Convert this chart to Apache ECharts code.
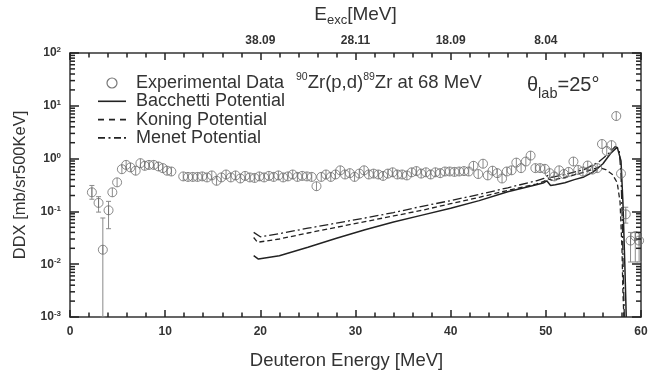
<!DOCTYPE html>
<html>
<head>
<meta charset="utf-8">
<script src="https://cdn.jsdelivr.net/npm/echarts@6/dist/echarts.min.js"></script>
<style>html,body{margin:0;padding:0;background:#fff}#c{width:658px;height:376px}</style>
</head>
<body>
<div id="c"></div>
<script>
// ---------- data ----------
const expE = [2.3, 3.0, 3.45, 4.05, 4.45, 4.95, 5.45, 5.9, 6.35, 6.9, 7.4, 7.85, 8.3, 8.8, 9.3, 9.75, 10.2, 10.65,
  11.9, 12.4, 12.9, 13.4, 13.9, 14.4, 14.9, 15.4, 15.9, 16.4, 16.9, 17.4, 17.9, 18.4, 18.9, 19.4, 19.9, 20.4, 20.9,
  21.4, 21.9, 22.4, 22.9, 23.4, 23.9, 24.4, 24.9, 25.4, 25.9, 26.4, 26.9, 27.4, 27.9, 28.4, 28.9, 29.4, 29.9, 30.4,
  30.9, 31.4, 31.9, 32.4, 32.9, 33.4, 33.9, 34.4, 34.9, 35.4, 35.9, 36.4, 36.9, 37.4, 37.9, 38.4, 38.9, 39.4, 39.9,
  40.4, 40.9, 41.4, 41.9, 42.4, 42.9, 43.4, 43.9, 44.4, 44.9, 45.4, 45.9, 46.4, 46.9, 47.4, 47.9, 48.4, 48.9, 49.4,
  49.9, 50.4, 50.9, 51.4, 51.9, 52.4, 52.9, 53.4, 53.9, 54.4, 54.9, 55.4, 55.9, 56.4, 56.9, 57.4, 57.9, 58.4, 58.9,
  59.4, 59.8];
const expV = [0.23, 0.145, 0.0188, 0.105, 0.23, 0.355, 0.63, 0.76, 0.68, 0.59, 0.82, 0.73, 0.76, 0.76, 0.71, 0.66, 0.59, 0.57,
  0.46, 0.45, 0.45, 0.45, 0.46, 0.44, 0.48, 0.38, 0.44, 0.5, 0.44, 0.48, 0.42, 0.47, 0.44, 0.43, 0.46, 0.44, 0.47,
  0.45, 0.48, 0.44, 0.46, 0.5, 0.45, 0.47, 0.46, 0.45, 0.3, 0.45, 0.5, 0.45, 0.5, 0.6, 0.5, 0.53, 0.45, 0.52,
  0.6, 0.5, 0.52, 0.5, 0.47, 0.52, 0.55, 0.5, 0.5, 0.48, 0.55, 0.58, 0.52, 0.55, 0.5, 0.55, 0.53, 0.57, 0.57,
  0.56, 0.57, 0.58, 0.57, 0.73, 0.51, 0.8, 0.48, 0.59, 0.53, 0.42, 0.57, 0.6, 0.84, 0.66, 0.88, 1.14, 0.66, 0.66,
  0.64, 0.53, 0.46, 0.6, 0.51, 0.56, 0.88, 0.61, 0.57, 0.74, 0.62, 0.66, 1.89, 1.39, 1.8, 6.4, 0.52, 0.088, 0.028,
  0.034, 0.028];
// large error bars (others are within the symbol)
const errE  = [2.3, 3.0, 3.45, 4.05, 58.4, 58.9, 59.4, 59.8];
const errLo = [0.17, 0.097, 0.001, 0.047, 0.06, 0.011, 0.011, 0.011];
const errHi = [0.31, 0.19, 0.075, 0.155, 0.12, 0.04, 0.04, 0.04];

const bacE = [19.3, 19.8, 22, 25, 28, 31, 34, 37, 40, 43, 46, 49, 49.8, 50.1, 50.5, 51, 52, 53, 54, 55, 56, 56.8, 57.5, 57.9, 58.1, 58.3, 58.45];
const bacV = [0.0145, 0.0125, 0.0145, 0.021, 0.031, 0.045, 0.063, 0.085, 0.115, 0.16, 0.235, 0.32, 0.35, 0.38, 0.31, 0.32, 0.35, 0.4, 0.45, 0.56, 0.8, 1.25, 1.65, 0.9, 0.15, 0.01, 0.001];
const konE = [19.3, 19.7, 22, 25, 28, 31, 34, 37, 40, 43, 46, 49, 49.8, 50.2, 50.6, 52, 54, 55.5, 56.3, 57, 57.5, 57.8, 58.0, 58.1, 58.2];
const konV = [0.032, 0.026, 0.03, 0.039, 0.05, 0.064, 0.082, 0.105, 0.14, 0.185, 0.25, 0.33, 0.37, 0.42, 0.39, 0.44, 0.55, 0.68, 0.62, 0.5, 0.35, 0.15, 0.02, 0.003, 0.001];
const menE = [19.3, 20, 22, 25, 28, 31, 34, 37, 40, 43, 46, 49, 49.8, 50.2, 50.6, 52, 54, 55.5, 56.5, 57.3, 57.7, 57.9, 58.05, 58.15, 58.25];
const menV = [0.04, 0.033, 0.038, 0.048, 0.06, 0.075, 0.095, 0.125, 0.16, 0.21, 0.28, 0.38, 0.42, 0.48, 0.44, 0.5, 0.62, 0.85, 1.2, 1.7, 1.5, 0.5, 0.05, 0.005, 0.001];

const topTickE = [20, 30, 40, 50];
const topTickLabels = ['38.09', '28.11', '18.09', '8.04'];
const yMinor = [];
[0.001, 0.01, 0.1, 1, 10].forEach(d => { for (let k = 2; k <= 9; k++) yMinor.push(+(d * k).toPrecision(3)); });

// ---------- chart ----------
const FF = 'Liberation Sans, Arial, sans-serif';
const AX = '#333';
const TK = '#222';
const TW = 1.5;
const chart = echarts.init(document.getElementById('c'), null, {renderer: 'canvas'});

const circlePath = 'path://M0,-10L0,10M10,0A10,10,0,1,1,-10,0A10,10,0,1,1,10,0Z';
const iconSolid = 'path://M0,0h28v1.6h-28z';
const iconDash = 'path://M0,0h6v1.6h-6zM11,0h6v1.6h-6zM22,0h6v1.6h-6z';
const iconDashDot = 'path://M0,0h7v1.6h-7zM10.5,0h2v1.6h-2zM16,0h7v1.6h-7zM26,0h2v1.6h-2z';

function yAxisDef(pos, labels) {
  return {
    type: 'log', min: 0.001, max: 100, position: pos,
    axisLine: {show: true, onZero: false, lineStyle: {color: AX, width: 1.5}},
    axisTick: {show: true, inside: true, length: 9, lineStyle: {color: TK, width: TW}},
    axisLabel: labels ? {
      show: true, margin: 9,
      formatter: v => '{b|10}{s|' + Math.round(Math.log10(v)) + '}',
      rich: {b: {fontSize: 12, fontWeight: 'bold', color: '#333', fontFamily: FF},
             s: {fontSize: 8, fontWeight: 'bold', color: '#333', fontFamily: FF, verticalAlign: 'top', padding: [0, 0, 6, 0]}}
    } : {show: false},
    splitLine: {show: false}, minorTick: {show: false}, minorSplitLine: {show: false}
  };
}
function xAxisDef(pos) {
  return {
    type: 'value', min: 0, max: 60, interval: 10, position: pos,
    axisLine: {onZero: false, lineStyle: {color: AX, width: 1.5}},
    axisTick: {show: true, inside: true, length: 7, lineStyle: {color: TK, width: TW}},
    minorTick: {show: true, splitNumber: 5, length: 4.5, lineStyle: {color: TK, width: TW}},
    splitLine: {show: false}, minorSplitLine: {show: false}
  };
}

const option = {
  animation: false,
  backgroundColor: '#fff',
  grid: {left: 70, right: 17, top: 51, bottom: 59, containLabel: false},
  legend: {
    orient: 'vertical', left: 93, top: 69, itemWidth: 28, itemHeight: 10, itemGap: 0.3,
    textStyle: {fontSize: 18, color: '#333', fontFamily: FF, lineHeight: 18, padding: [0, 0, 0, 5]},
    data: [
      {name: 'Experimental Data', icon: 'circle', itemStyle: {color: 'rgba(0,0,0,0)', borderColor: '#555', borderWidth: 1.2}},
      {name: 'Bacchetti Potential', icon: iconSolid, itemStyle: {color: '#222'}},
      {name: 'Koning Potential', icon: iconDash, itemStyle: {color: '#222'}},
      {name: 'Menet Potential', icon: iconDashDot, itemStyle: {color: '#222'}}
    ]
  },
  xAxis: [
    Object.assign(xAxisDef('bottom'), {
      name: 'Deuteron Energy [MeV]', nameLocation: 'middle', nameGap: 34,
      nameTextStyle: {fontSize: 18.5, color: '#333', fontFamily: FF, padding: [0, 18, 0, 0]},
      axisLabel: {fontSize: 12, fontWeight: 'bold', color: '#333', fontFamily: FF, margin: 9}
    }),
    Object.assign(xAxisDef('top'), {
      name: '{n|E}{sub|exc}{n|[MeV]}', nameLocation: 'middle', nameGap: 26,
      nameTextStyle: {rich: {
        n: {fontSize: 19, color: '#333', fontFamily: FF, verticalAlign: 'top'},
        sub: {fontSize: 13, color: '#333', fontFamily: FF, verticalAlign: 'bottom', padding: [9, 0, 0, 0]}
      }},
      axisLabel: {fontSize: 12, fontWeight: 'bold', color: '#333', fontFamily: FF, margin: 6,
        formatter: v => { const i = topTickE.indexOf(v); return i >= 0 ? topTickLabels[i] : ''; }}
    })
  ],
  yAxis: [
    Object.assign(yAxisDef('left', true), {
      name: 'DDX [mb/sr500KeV]', nameLocation: 'middle', nameGap: 41, nameRotate: 90,
      nameTextStyle: {fontSize: 16.5, color: '#333', fontFamily: FF}
    }),
    yAxisDef('right', false)
  ],
  graphic: [
    {type: 'text', left: 296, top: 72, style: {
      text: '{s|90}{n|Zr(p,d)}{s|89}{n|Zr at 68 MeV}',
      rich: {n: {fontSize: 18.5, fill: '#333', fontFamily: FF, verticalAlign: 'bottom', lineHeight: 20},
             s: {fontSize: 10.5, fill: '#333', fontFamily: FF, verticalAlign: 'top', lineHeight: 20}}
    }},
    {type: 'text', left: 527, top: 75, style: {
      text: '{t|θ}{sub|lab}{t|=25°}',
      rich: {t: {fontSize: 20, fill: '#333', fontFamily: FF, verticalAlign: 'top', lineHeight: 26},
             sub: {fontSize: 14.5, fill: '#333', fontFamily: FF, verticalAlign: 'bottom', lineHeight: 26}}
    }}
  ],
  series: [
    {
      name: 'minorTicks', type: 'custom', xAxisIndex: 0, yAxisIndex: 0, silent: true, z: 5,
      data: yMinor.map(v => [0, v]),
      renderItem: (params, api) => {
        const cs = params.coordSys;
        const y = api.coord([api.value(0), api.value(1)])[1];
        const L = 5, st = {stroke: TK, lineWidth: TW};
        return {type: 'group', children: [
          {type: 'line', shape: {x1: cs.x, y1: y, x2: cs.x + L, y2: y}, style: st},
          {type: 'line', shape: {x1: cs.x + cs.width - L, y1: y, x2: cs.x + cs.width, y2: y}, style: st}
        ]};
      }
    },
    {
      name: 'Experimental Data', type: 'scatter', xAxisIndex: 0, yAxisIndex: 0,
      symbol: circlePath, symbolSize: 9,
      itemStyle: {color: 'rgba(0,0,0,0)', borderColor: '#6e6e6e', borderWidth: 1},
      data: expE.map((e, i) => [e, expV[i]]), z: 3
    },
    {
      name: 'errors', type: 'custom', xAxisIndex: 0, yAxisIndex: 0, silent: true,
      data: errE.map((e, i) => [e, errLo[i], errHi[i]]),
      renderItem: (params, api) => {
        const lo = api.coord([api.value(0), api.value(1)]);
        const hi = api.coord([api.value(0), api.value(2)]);
        const c = 2.5, st = {stroke: '#8a8a8a', lineWidth: 1};
        return {type: 'group', children: [
          {type: 'line', shape: {x1: lo[0], y1: lo[1], x2: hi[0], y2: hi[1]}, style: st},
          {type: 'line', shape: {x1: lo[0] - c, y1: lo[1], x2: lo[0] + c, y2: lo[1]}, style: st},
          {type: 'line', shape: {x1: hi[0] - c, y1: hi[1], x2: hi[0] + c, y2: hi[1]}, style: st}
        ]};
      }
    },
    {name: 'Bacchetti Potential', type: 'line', symbol: 'none', clip: true,
     lineStyle: {color: '#222', width: 1.5, type: 'solid'}, itemStyle: {color: '#222'},
     data: bacE.map((e, i) => [e, bacV[i]])},
    {name: 'Koning Potential', type: 'line', symbol: 'none', clip: true,
     lineStyle: {color: '#222', width: 1.3, type: [5, 3]}, itemStyle: {color: '#222'},
     data: konE.map((e, i) => [e, konV[i]])},
    {name: 'Menet Potential', type: 'line', symbol: 'none', clip: true,
     lineStyle: {color: '#222', width: 1.3, type: [9, 3, 2, 3]}, itemStyle: {color: '#222'},
     data: menE.map((e, i) => [e, menV[i]])}
  ]
};
chart.setOption(option);
</script>
</body>
</html>
